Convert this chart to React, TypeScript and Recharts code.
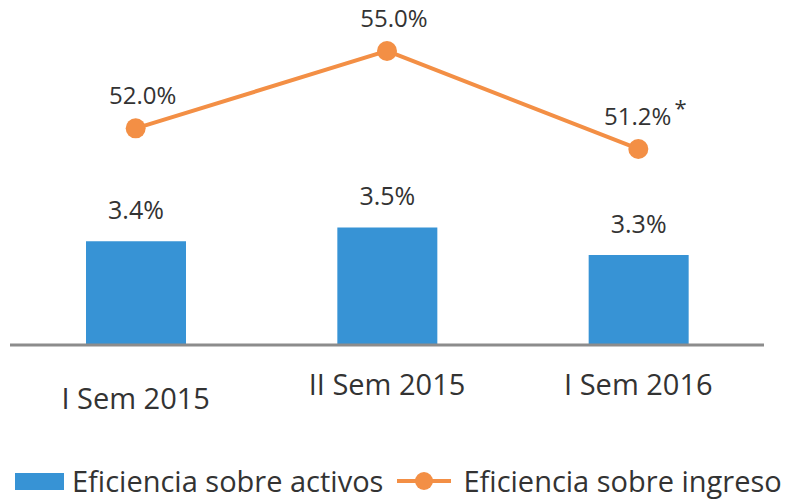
import { Bar, ComposedChart, LabelList, Legend, Line, XAxis, YAxis } from "recharts"

const periods = ["I Sem 2015", "II Sem 2015", "I Sem 2016"]
const activos = [3.4, 3.5, 3.3]
const ingreso = [52.0, 55.0, 51.2]
const notes = ["", "", "*"]

const BLUE = "#3793d5"
const ORANGE = "#f38f45"
const TEXT = "#333333"
const FONT = "'Open Sans', sans-serif"

const data = periods.map((p, i) => ({
  period: p,
  activos: activos[i],
  ingreso: ingreso[i],
  note: notes[i],
}))

function PeriodTick(props: any) {
  const { x, y, payload, index } = props
  // the first label sits a bit lower in the original
  const dy = index === 0 ? 64 : 50
  return (
    <text x={x} y={y + dy} textAnchor="middle" fill={TEXT} fontSize={29} fontFamily={FONT}>
      {payload.value}
    </text>
  )
}

function IngresoLabel(props: any) {
  const { x, y, value, index } = props
  const note = notes[index]
  return (
    <text x={x + 7} y={y - 24} textAnchor="middle" fill={TEXT} fontSize={24} fontFamily={FONT}>
      {value.toFixed(1)}%
      {note ? (
        <tspan dx={3} dy={-9} fontSize={22}>
          {note}
        </tspan>
      ) : null}
    </text>
  )
}

function ActivosLabel(props: any) {
  const { x, y, width, value } = props
  return (
    <text x={x + width / 2} y={y - 22} textAnchor="middle" fill={TEXT} fontSize={25} fontFamily={FONT}>
      {value.toFixed(1)}%
    </text>
  )
}

function LegendContent() {
  return (
    <div
      style={{
        display: "flex",
        alignItems: "center",
        justifyContent: "flex-start",
        width: 801,
        height: 40,
        paddingLeft: 15,
        paddingBottom: 6,
        boxSizing: "border-box",
        fontFamily: FONT,
        fontSize: 29,
        lineHeight: "34px",
        color: TEXT,
        whiteSpace: "nowrap",
      }}
    >
      <span style={{ display: "inline-block", flexShrink: 0, width: 49, height: 17, background: BLUE, marginRight: 8 }} />
      <span>Eficiencia sobre activos</span>
      <svg width={54} height={20} style={{ flexShrink: 0, marginLeft: 14, marginRight: 12 }}>
        <line x1={0} y1={10} x2={54} y2={10} stroke={ORANGE} strokeWidth={4} />
        <circle cx={27} cy={10} r={9} fill={ORANGE} />
      </svg>
      <span>Eficiencia sobre ingreso</span>
    </div>
  )
}

export default function App() {
  return (
    <div style={{ position: "absolute", left: 0, top: 0, width: 801, height: 504, background: "#fff" }}>
      <ComposedChart width={801} height={504} data={data} margin={{ top: 20, right: 37, bottom: 0, left: 10 }}>
        <XAxis
          dataKey="period"
          height={119}
          tickLine={false}
          tickSize={0}
          tickMargin={0}
          axisLine={{ stroke: "#8c8c8c", strokeWidth: 3 }}
          tick={<PeriodTick />}
          interval={0}
        />
        <YAxis yAxisId="bar" hide domain={[2.65, 5.0]} />
        <YAxis yAxisId="line" hide domain={[43.6, 56.2]} />
        <Legend
          verticalAlign="bottom"
          content={<LegendContent />}
          wrapperStyle={{ left: 0, width: 801 }}
        />
        <Bar yAxisId="bar" dataKey="activos" fill={BLUE} barSize={100} isAnimationActive={false}>
          <LabelList dataKey="activos" content={<ActivosLabel />} />
        </Bar>
        <Line
          yAxisId="line"
          dataKey="ingreso"
          stroke={ORANGE}
          strokeWidth={4}
          dot={{ r: 10, fill: ORANGE, stroke: ORANGE, strokeWidth: 0 }}
          activeDot={false}
          isAnimationActive={false}
        >
          <LabelList dataKey="ingreso" content={<IngresoLabel />} />
        </Line>
      </ComposedChart>
    </div>
  )
}
